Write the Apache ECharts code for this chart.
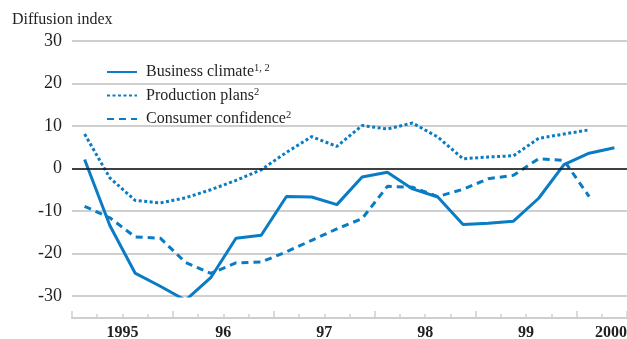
<!DOCTYPE html>
<html><head><meta charset="utf-8">
<script src="https://cdn.jsdelivr.net/npm/echarts@6/dist/echarts.min.js"></script>
<style>html,body{margin:0;padding:0;background:#fff}#c{width:627px;height:339px}</style>
</head><body><div id="c"></div>
<script>
// Quarterly data, 1995Q1 .. 2000Q2
const quarters = ['95Q1','95Q2','95Q3','95Q4','96Q1','96Q2','96Q3','96Q4','97Q1','97Q2','97Q3','97Q4','98Q1','98Q2','98Q3','98Q4','99Q1','99Q2','99Q3','99Q4','00Q1','00Q2'];
const businessClimate = [2.1, -13.4, -24.6, -27.7, -31.0, -25.7, -16.4, -15.7, -6.6, -6.7, -8.5, -2.0, -0.9, -4.8, -6.7, -13.2, -12.9, -12.4, -7.0, 0.9, 3.6, 4.9];
const productionPlans = [8.1, -2.2, -7.5, -8.1, -6.9, -5.0, -2.8, -0.3, 3.8, 7.5, 5.2, 10.1, 9.3, 10.7, 7.4, 2.3, 2.7, 3.0, 7.1, 8.1, 9.1, null];
const consumerConfidence = [-8.9, -11.6, -16.1, -16.4, -22.1, -24.7, -22.2, -22.0, -19.6, -16.9, -14.2, -11.8, -4.2, -4.4, -6.6, -4.9, -2.4, -1.6, 2.3, 1.9, -6.6, null];
const yearLabels = {2: '1995', 6: '96', 10: '97', 14: '98', 18: '99', 22: '2000'};
const seriesNames = ['Business climate', 'Production plans', 'Consumer confidence'];
const seriesSup = {'Business climate': '1, 2', 'Production plans': '2', 'Consumer confidence': '2'};

const FONT = "'Liberation Serif','Times New Roman',serif";
const BLUE = '#0a7cc4';
const TXT = '#231f20';
const GRID = '#cfcfcf';
const toXY = arr => arr.map((v, i) => [i + 0.5, v]);

const chart = echarts.init(document.getElementById('c'), null, {renderer: 'canvas'});
const gridRect = {left: 72, right: 0, top: 41, bottom: 43, containLabel: false, outerBoundsMode: 'none'};
chart.setOption({
  animation: false,
  title: {text: 'Diffusion index', left: 12, top: 12, padding: 0, textStyle: {fontFamily: FONT, fontSize: 16, fontWeight: 'normal', color: TXT}},
  legend: {
    orient: 'vertical', left: 106, top: 63, padding: 0, itemWidth: 30, itemHeight: 18, itemGap: 6.5,
    data: seriesNames,
    itemStyle: {opacity: 0},
    formatter: n => '{a|' + n + '}{s|' + seriesSup[n] + '}',
    textStyle: {fontFamily: FONT, color: TXT,
      rich: {a: {fontFamily: FONT, fontSize: 16, color: TXT, padding: [0, 0, 0, 4], lineHeight: 18},
             s: {fontFamily: FONT, fontSize: 10.5, color: TXT, verticalAlign: 'top', lineHeight: 10}}}
  },
  grid: [Object.assign({}, gridRect), Object.assign({}, gridRect)],
  xAxis: [
    {gridIndex: 0, type: 'value', min: 0, max: 22, interval: 1, offset: 22,
     axisLine: {show: true, onZero: false, lineStyle: {color: GRID, width: 2}},
     axisTick: {show: true, inside: true, length: 4, lineStyle: {color: GRID, width: 1.5}},
     axisLabel: {show: true, margin: 7, fontFamily: FONT, fontSize: 16, fontWeight: 'bold', color: TXT,
       alignMaxLabel: 'right',
       formatter: v => yearLabels[v] || ''},
     splitLine: {show: false}},
    {gridIndex: 1, type: 'value', min: 0, max: 22, interval: 4, offset: 22,
     axisLine: {show: true, onZero: false, lineStyle: {color: GRID, width: 2}},
     axisTick: {show: true, inside: true, length: 7, lineStyle: {color: GRID, width: 1.5}},
     axisLabel: {show: false},
     splitLine: {show: false}}
  ],
  yAxis: [
    {gridIndex: 0, type: 'value', min: -30, max: 30, interval: 10,
     axisLine: {show: false}, axisTick: {show: false},
     axisLabel: {margin: 10, fontFamily: FONT, fontSize: 18, color: TXT},
     splitLine: {lineStyle: {color: GRID, width: 2}}},
    {gridIndex: 1, type: 'value', min: -30, max: 30, show: false}
  ],
  series: [
    {name: 'Business climate', type: 'line', xAxisIndex: 0, yAxisIndex: 0, data: toXY(businessClimate),
     symbol: 'none', lineStyle: {color: BLUE, width: 3, type: 'solid'}, itemStyle: {color: BLUE},
     markLine: {silent: true, symbol: 'none', label: {show: false}, lineStyle: {color: '#111', width: 1.5, type: 'solid'}, data: [{yAxis: 0}]}, z: 3},
    {name: 'Production plans', type: 'line', xAxisIndex: 0, yAxisIndex: 0, data: toXY(productionPlans),
     symbol: 'none', lineStyle: {color: BLUE, width: 3, type: [3, 2.5]}, itemStyle: {color: BLUE}, z: 3},
    {name: 'Consumer confidence', type: 'line', xAxisIndex: 0, yAxisIndex: 0, data: toXY(consumerConfidence),
     symbol: 'none', lineStyle: {color: BLUE, width: 3, type: [7, 5]}, itemStyle: {color: BLUE}, z: 3}
  ]
});
</script></body></html>
